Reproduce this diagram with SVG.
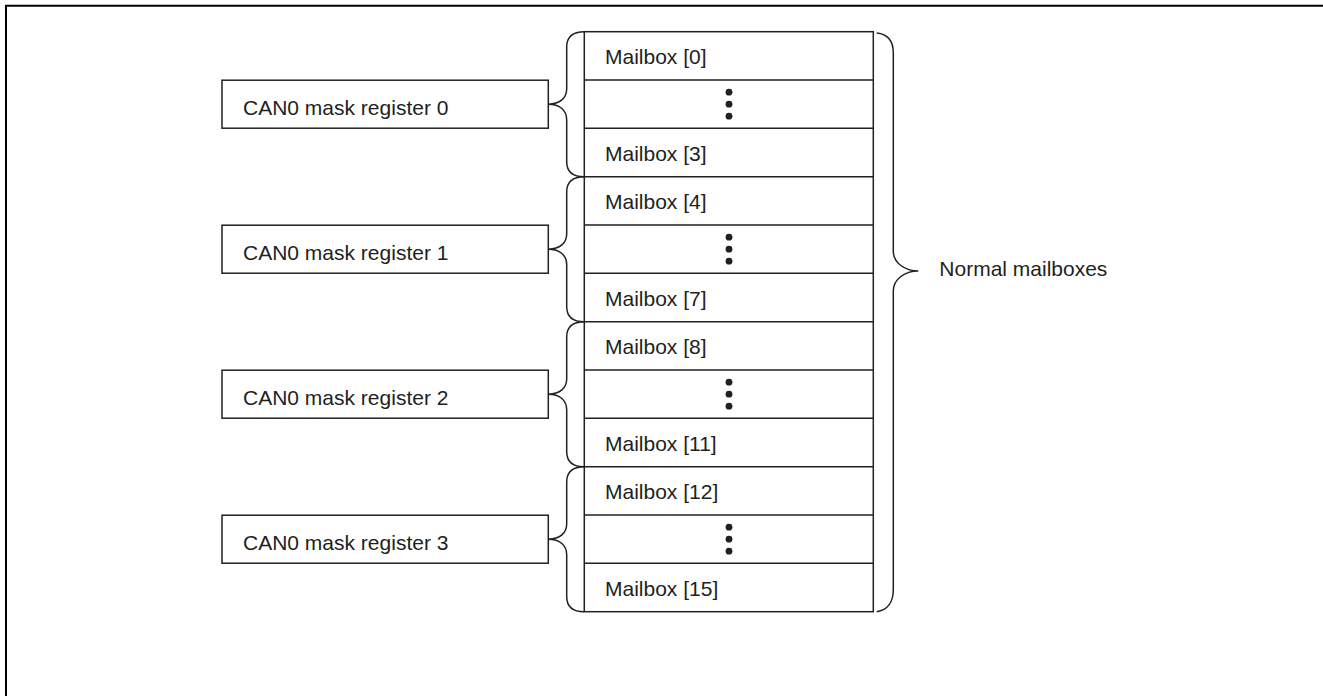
<svg xmlns="http://www.w3.org/2000/svg" width="1323" height="696" viewBox="0 0 1323 696">
  <style>
    .frame { fill: none; stroke: #000; stroke-width: 2; }
    .box { fill: #fff; stroke: #231f20; stroke-width: 1.5; }
    .line { fill: none; stroke: #231f20; stroke-width: 1.5; }
    .brace { fill: none; stroke: #231f20; stroke-width: 1.5; }
    .label { font-family: "Liberation Sans", Arial, sans-serif; font-size: 21px; fill: #231f20; }
    .dot { fill: #231f20; }
  </style>
  <defs>
    <!-- vertical ellipsis marking the elided mailbox rows -->
    <g id="dots">
      <circle cx="0" cy="-12" r="3.4" class="dot"/>
      <circle cx="0" cy="0" r="3.4" class="dot"/>
      <circle cx="0" cy="12" r="3.4" class="dot"/>
    </g>
  </defs>

  <rect width="1323" height="696" fill="#fff"/>

  <!-- page frame (top and left edges) -->
  <path class="frame" d="M6 696 V5.7 H1323"/>

  <!-- mailbox table -->
  <g id="mailbox-table">
    <rect class="box" x="584.3" y="31.7" width="289" height="580"/>
    <g class="line">
      <line x1="584.3" y1="80.03" x2="873.3" y2="80.03"/>
      <line x1="584.3" y1="128.37" x2="873.3" y2="128.37"/>
      <line x1="584.3" y1="176.7" x2="873.3" y2="176.7"/>
      <line x1="584.3" y1="225.03" x2="873.3" y2="225.03"/>
      <line x1="584.3" y1="273.37" x2="873.3" y2="273.37"/>
      <line x1="584.3" y1="321.7" x2="873.3" y2="321.7"/>
      <line x1="584.3" y1="370.03" x2="873.3" y2="370.03"/>
      <line x1="584.3" y1="418.37" x2="873.3" y2="418.37"/>
      <line x1="584.3" y1="466.7" x2="873.3" y2="466.7"/>
      <line x1="584.3" y1="515.03" x2="873.3" y2="515.03"/>
      <line x1="584.3" y1="563.37" x2="873.3" y2="563.37"/>
    </g>
    <g id="mailbox-0"><text class="label" x="605" y="64.2">Mailbox [0]</text></g>
    <g id="mailbox-dots-0"><use href="#dots" x="729" y="104.2"/></g>
    <g id="mailbox-3"><text class="label" x="605" y="160.9">Mailbox [3]</text></g>
    <g id="mailbox-4"><text class="label" x="605" y="209.2">Mailbox [4]</text></g>
    <g id="mailbox-dots-1"><use href="#dots" x="729" y="249.2"/></g>
    <g id="mailbox-7"><text class="label" x="605" y="305.9">Mailbox [7]</text></g>
    <g id="mailbox-8"><text class="label" x="605" y="354.2">Mailbox [8]</text></g>
    <g id="mailbox-dots-2"><use href="#dots" x="729" y="394.2"/></g>
    <g id="mailbox-11"><text class="label" x="605" y="450.9">Mailbox [11]</text></g>
    <g id="mailbox-12"><text class="label" x="605" y="499.2">Mailbox [12]</text></g>
    <g id="mailbox-dots-3"><use href="#dots" x="729" y="539.2"/></g>
    <g id="mailbox-15"><text class="label" x="605" y="595.9">Mailbox [15]</text></g>
  </g>

  <!-- mask registers -->
  <g id="mask-0">
    <rect class="box" x="222" y="80.2" width="326.3" height="48"/>
    <text class="label" x="243" y="114.5">CAN0 mask register 0</text>
  </g>
  <g id="mask-1">
    <rect class="box" x="222" y="225.2" width="326.3" height="48"/>
    <text class="label" x="243" y="259.5">CAN0 mask register 1</text>
  </g>
  <g id="mask-2">
    <rect class="box" x="222" y="370.2" width="326.3" height="48"/>
    <text class="label" x="243" y="404.5">CAN0 mask register 2</text>
  </g>
  <g id="mask-3">
    <rect class="box" x="222" y="515.2" width="326.3" height="48"/>
    <text class="label" x="243" y="549.5">CAN0 mask register 3</text>
  </g>

  <!-- braces linking each mask register to its mailboxes -->
  <g id="connectors">
    <path class="brace" d="M584.3 31.7 C573 31.7 566.7 36.5 566.7 47 L566.7 88.7 C566.7 98 560 104.2 548.3 104.2 C560 104.2 566.7 110.4 566.7 119.7 L566.7 161.4 C566.7 171.9 573 176.7 584.3 176.7"/>
    <path class="brace" d="M584.3 176.7 C573 176.7 566.7 181.5 566.7 192 L566.7 233.7 C566.7 243 560 249.2 548.3 249.2 C560 249.2 566.7 255.4 566.7 264.7 L566.7 306.4 C566.7 316.9 573 321.7 584.3 321.7"/>
    <path class="brace" d="M584.3 321.7 C573 321.7 566.7 326.5 566.7 337 L566.7 378.7 C566.7 388 560 394.2 548.3 394.2 C560 394.2 566.7 400.4 566.7 409.7 L566.7 451.4 C566.7 461.9 573 466.7 584.3 466.7"/>
    <path class="brace" d="M584.3 466.7 C573 466.7 566.7 471.5 566.7 482 L566.7 523.7 C566.7 533 560 539.2 548.3 539.2 C560 539.2 566.7 545.4 566.7 554.7 L566.7 596.4 C566.7 606.9 573 611.7 584.3 611.7"/>
    <!-- brace spanning all normal mailboxes -->
    <path class="brace" d="M876.7 33 C887.5 34 893.3 41 893.3 53 L893.3 251 C893.3 263 905 271 918.3 271 C905 271 893.3 279 893.3 291 L893.3 590 C893.3 602 887.5 610 876.7 611.7"/>
  </g>

  <g id="normal-mailboxes">
    <text class="label" x="939.3" y="275.7">Normal mailboxes</text>
  </g>
</svg>
